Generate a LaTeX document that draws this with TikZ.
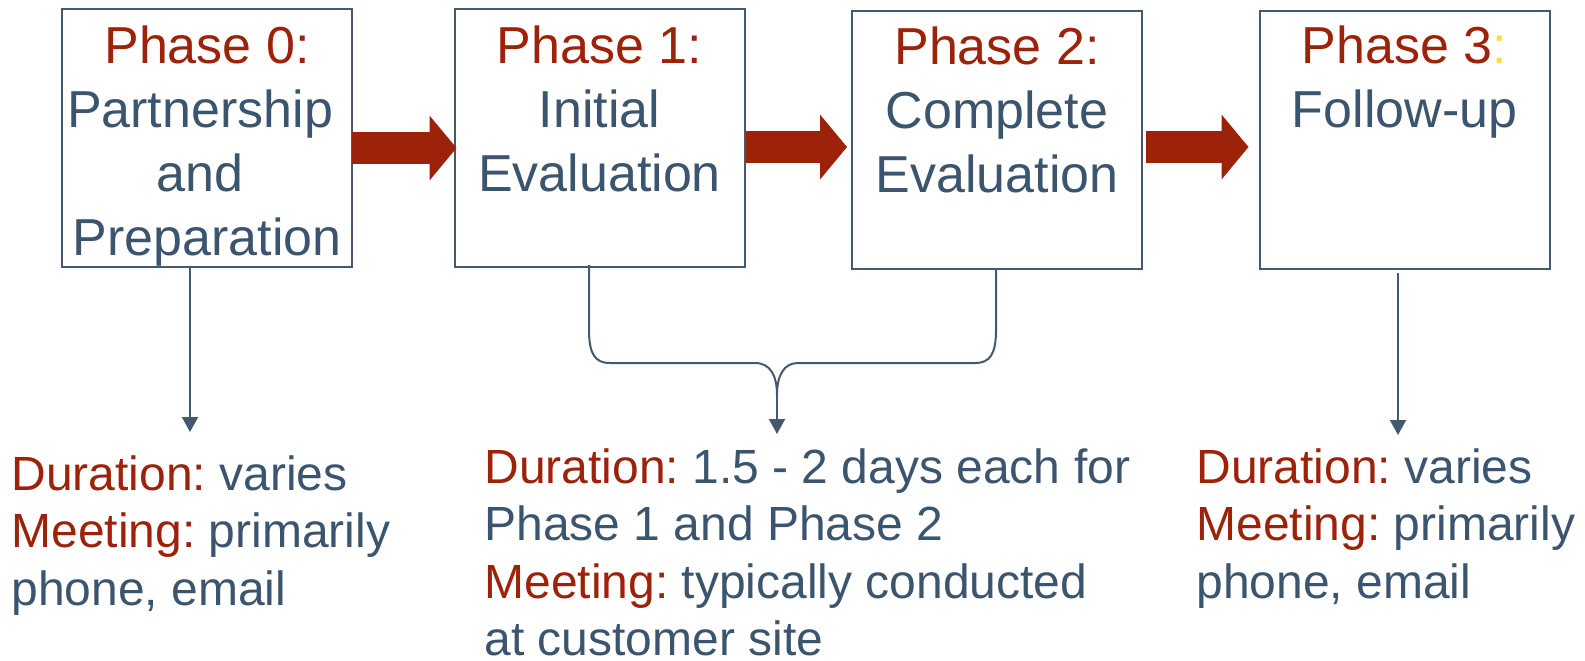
\documentclass[tikz,border=0pt]{standalone}
\usepackage{fontspec}
\setmainfont{Liberation Sans}
\frenchspacing
\usetikzlibrary{arrows.meta,calc}
\definecolor{phred}{RGB}{156,34,9}
\definecolor{slate}{RGB}{59,85,111}
\definecolor{frame}{RGB}{68,88,110}
\definecolor{gold}{RGB}{247,222,58}
\begin{document}
\begin{tikzpicture}[x=0.5pt,y=-0.5pt,
  phasebox/.style={draw=frame,line width=1pt,minimum width=145pt,minimum height=129pt,inner sep=0pt,outer sep=0pt},
  phasetext/.style={anchor=north,inner sep=0pt,align=center,text=slate,font=\fontsize{26pt}{32pt}\selectfont},
  notetext/.style={anchor=north west,inner sep=0pt,align=left,text=slate,font=\fontsize{24pt}{28.75pt}\selectfont},
  blockarrow/.style={draw=phred,line width=16pt,-{Triangle[length=13.5pt,width=32.5pt,line width=0pt]}},
  link/.style={draw=frame,line width=1pt},
  linkarrow/.style={link,-{Triangle[length=7.5pt,width=8pt]}}
]
\useasboundingbox (0,0) rectangle (1585,660);

% phase boxes
\node[phasebox] (p0) at (207,137.5) {};
\node[phasebox] (p1) at (599.5,138) {};
\node[phasebox] (p2) at (997,140) {};
\node[phasebox] (p3) at (1404.5,139.5) {};

% box titles
\node[phasetext] (t0) at ($(p0.north)+(0,17)$) {\textcolor{phred}{Phase 0:}\\Partnership\kern7pt\\and\kern7pt\\Preparation};
\node[phasetext] (t1) at ($(p1.north)+(0,16)$) {\textcolor{phred}{Phase 1:}\\Initial\\Evaluation};
\node[phasetext] (t2) at ($(p2.north)+(0,15)$) {\textcolor{phred}{Phase 2:}\\Complete\\Evaluation};
\node[phasetext] (t3) at ($(p3.north)+(0,15)$) {\textcolor{phred}{Phase 3}\textcolor{gold}{:}\\Follow-up};

% notes under the phases
\node[notetext] (n0) at (11,455) {\textcolor{phred}{Duration:} varies\\\textcolor{phred}{Meeting:} primarily\\phone, email};
\node[notetext] (n12) at (484,448) {\textcolor{phred}{Duration:} 1.5 - 2 days each for\\Phase 1 and Phase 2\\\textcolor{phred}{Meeting:} typically conducted\\at customer site};
\node[notetext] (n3) at (1196,448) {\textcolor{phred}{Duration:} varies\\\textcolor{phred}{Meeting:} primarily\\phone, email};

% block arrows between phases
\draw[blockarrow] ($(p0.east)+(0,10.5)$) -- ($(p1.west)+(2,10)$);
\draw[blockarrow] ($(p1.east)+(1,9)$) -- ($(p2.west)+(-5,7)$);
\draw[blockarrow] ($(p2.east)+(4,7)$) -- ($(p3.west)+(-11,7.5)$);

% connectors to the notes
\coordinate (e0) at (190,432);
\draw[linkarrow] ($(p0.south)+(-17,0)$) -- (e0);
\coordinate (e3) at (1398,435);
\draw[linkarrow] ($(p3.south)+(-6.5,4)$) -- (e3);

% brace joining phases 1 and 2
\coordinate (cusp) at (777,395);
\coordinate (e12) at (777,434);
\draw[link] ($(p1.south)+(-10.5,-2)$) -- (589,330)
  .. controls (589,354) and (595,363) .. (610,363) -- (755,363)
  .. controls (770,363) and (777,375) .. (cusp)
  .. controls (777,375) and (784,363) .. (798,363) -- (975,363)
  .. controls (990,363) and (996,354) .. (996,330)
  -- ($(p2.south)+(-1,-1)$);
\draw[linkarrow] (cusp) -- (e12);
\end{tikzpicture}
\end{document}
